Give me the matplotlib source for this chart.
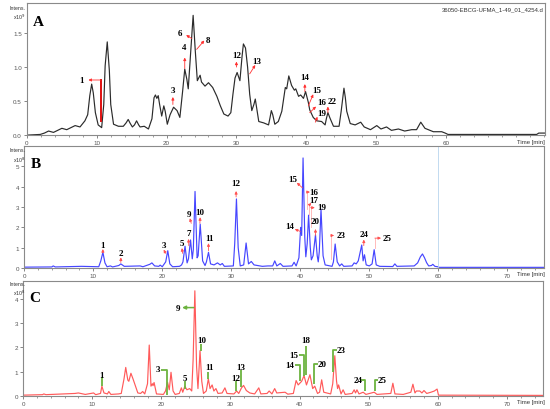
import matplotlib
matplotlib.use("Agg")
import matplotlib.pyplot as plt
from matplotlib.ticker import MultipleLocator, FixedLocator

# chromatogram A (total ion current), time in min, intensity x10^9
a_time = [0.0, 1.9, 2.5, 3.1, 3.8, 4.4, 5.0, 5.7, 6.3, 6.9, 7.6, 8.3, 8.7, 9.0, 9.27, 9.5, 9.8,
          10.2, 10.7, 11.0, 11.2, 11.5, 11.8, 12.0, 12.4, 13.1, 13.8, 14.2, 14.5, 14.8, 15.1,
          15.4, 15.7, 16.0, 16.2, 16.8, 17.4, 17.9, 18.2, 18.4, 18.6, 18.8, 19.0, 19.3, 19.6,
          19.8, 20.1, 20.5, 21.0, 21.5, 21.9, 22.3, 22.6, 22.9, 23.1, 23.5, 23.8, 24.1, 24.4,
          24.8, 25.0, 25.5, 26.0, 26.6, 27.2, 27.7, 28.2, 28.8, 29.2, 29.5, 29.8, 30.1, 30.5,
          30.8, 31.0, 31.3, 31.6, 31.9, 32.2, 32.5, 32.7, 32.9, 33.2, 33.9, 34.6, 34.8, 35.0,
          35.2, 35.5, 36.0, 36.5, 37.0, 37.2, 37.5, 37.9, 38.3, 38.5, 38.9, 39.2, 39.6, 39.9,
          40.3, 40.5, 41.0, 41.5, 42.2, 42.7, 42.9, 43.1, 43.4, 43.9, 44.7, 45.0, 45.4, 45.6,
          45.8, 46.3, 47.0, 47.8, 48.3, 49.2, 50.1, 50.7, 51.5, 52.2, 53.2, 54.1, 55.1, 55.8,
          56.4, 57.0, 57.7, 58.2, 59.4, 59.9, 60.3, 73.0, 73.3, 74.2]
a_int = [0.0, 0.01, 0.03, 0.06, 0.04, 0.07, 0.10, 0.08, 0.11, 0.14, 0.12, 0.21, 0.30, 0.58, 0.75,
         0.62, 0.33, 0.15, 0.11, 0.45, 1.02, 1.37, 0.95, 0.45, 0.16, 0.13, 0.13, 0.18, 0.23,
         0.17, 0.12, 0.15, 0.21, 0.15, 0.12, 0.13, 0.09, 0.24, 0.55, 0.59, 0.54, 0.58, 0.45,
         0.28, 0.43, 0.35, 0.16, 0.30, 0.41, 0.36, 0.26, 0.65, 0.97, 0.82, 0.68, 1.30, 1.76,
         1.25, 0.80, 0.88, 0.78, 0.72, 0.77, 0.70, 0.57, 0.43, 0.31, 0.28, 0.33, 0.60, 0.84,
         0.92, 0.80, 1.15, 1.34, 1.28, 1.00, 0.60, 0.36, 0.45, 0.53, 0.40, 0.20, 0.18, 0.15,
         0.25, 0.36, 0.30, 0.16, 0.20, 0.35, 0.70, 0.68, 0.87, 0.73, 0.66, 0.68, 0.57, 0.59,
         0.54, 0.64, 0.48, 0.37, 0.26, 0.21, 0.20, 0.15, 0.25, 0.33, 0.25, 0.13, 0.13, 0.35,
         0.69, 0.55, 0.35, 0.17, 0.15, 0.19, 0.12, 0.08, 0.14, 0.09, 0.12, 0.07, 0.09, 0.06,
         0.08, 0.08, 0.19, 0.10, 0.07, 0.05, 0.05, 0.03, 0.01, 0.01, 0.03, 0.03]

# chromatogram B (UV), intensity x10^8
b_time = [0.0, 4.0, 4.2, 4.5, 8.3, 10.8, 11.1, 11.4, 11.7, 12.0, 12.5, 12.8, 13.7, 14.0, 14.5,
          16.8, 17.2, 18.2, 18.5, 18.9, 19.5, 19.7, 20.0, 20.5, 20.8, 21.1, 21.5, 22.5, 22.8,
          23.0, 23.3, 23.6, 23.8, 24.1, 24.35, 24.5, 24.75, 25.05, 25.2, 25.5, 25.85, 26.2,
          26.4, 26.7, 27.0, 27.5, 28.0, 28.4, 28.7, 29.0, 30.3, 30.5, 30.75, 31.0, 31.3, 31.8,
          32.15, 32.5, 32.9, 33.3, 34.5, 35.3, 36.0, 36.3, 36.6, 37.1, 37.5, 38.8, 39.1, 39.4,
          39.8, 40.05, 40.2, 40.4, 40.65, 40.8, 41.0, 41.2, 41.45, 41.6, 41.85, 42.2, 42.45,
          42.6, 42.75, 43.0, 43.3, 43.6, 44.6, 44.8, 45.05, 45.35, 45.7, 46.0, 46.3, 47.5, 47.8,
          48.1, 48.4, 48.9, 49.1, 49.3, 49.55, 50.0, 50.4, 50.7, 51.0, 51.5, 53.4, 53.7, 54.0,
          56.5, 57.0, 57.4, 57.7, 58.0, 58.3, 58.6, 59.0, 59.2, 59.5, 59.9, 60.1, 75.5]
b_int = [0.04, 0.05, 0.10, 0.05, 0.08, 0.06, 0.35, 0.77, 0.25, 0.06, 0.10, 0.05, 0.12, 0.20,
         0.08, 0.10, 0.06, 0.18, 0.25, 0.10, 0.08, 0.14, 0.06, 0.30, 0.85, 0.20, 0.06, 0.08,
         0.15, 0.30, 1.07, 0.25, 0.45, 1.38, 0.45, 0.90, 3.77, 0.50, 0.60, 2.16, 0.35, 0.12,
         0.30, 0.77, 0.20, 0.15, 0.25, 0.15, 0.22, 0.08, 0.10, 1.20, 3.40, 1.00, 0.10, 0.15,
         1.23, 0.20, 0.32, 0.15, 0.08, 0.10, 0.10, 0.35, 0.10, 0.22, 0.08, 0.10, 0.28, 0.10,
         0.50, 2.00, 1.60, 5.42, 1.50, 0.55, 1.20, 2.60, 1.00, 0.40, 0.60, 1.63, 0.60, 0.30,
         0.80, 2.89, 0.60, 0.15, 0.08, 0.30, 1.18, 0.30, 0.10, 0.20, 0.08, 0.10, 0.25, 0.20,
         0.35, 1.13, 0.35, 0.65, 0.15, 0.10, 0.20, 0.90, 0.15, 0.08, 0.07, 0.20, 0.08, 0.10,
         0.25, 0.55, 0.69, 0.50, 0.26, 0.10, 0.12, 0.18, 0.08, 0.06, 0.03, 0.03]

# chromatogram C (extracted ions), intensity x10^8
c_time = [0.0, 2.8, 3.0, 3.3, 7.5, 8.0, 9.0, 10.2, 10.5, 11.2, 11.4, 11.7, 12.2, 12.4, 12.7,
          13.8, 14.2, 14.6, 14.85, 15.15, 15.3, 15.6, 15.9, 16.2, 16.6, 17.0, 17.3, 17.6, 18.0,
          18.25, 18.5, 18.7, 18.8, 18.95, 19.3, 20.3, 20.6, 20.9, 21.15, 21.4, 21.7, 22.0, 22.6,
          22.9, 23.1, 23.4, 23.7, 24.1, 24.4, 24.6, 24.85, 25.1, 25.3, 25.6, 25.85, 26.1, 26.5,
          26.8, 27.05, 27.35, 27.6, 27.9, 28.2, 28.8, 29.2, 29.5, 30.5, 30.9, 31.2, 31.6, 31.9,
          32.3, 32.8, 33.5, 34.1, 34.4, 35.3, 35.6, 36.0, 36.4, 36.7, 37.9, 38.3, 39.1, 39.5,
          39.8, 40.3, 40.65, 41.0, 41.5, 41.9, 42.2, 42.6, 42.9, 43.2, 43.5, 44.5, 44.8, 45.1,
          45.35, 45.5, 45.65, 46.0, 46.3, 46.6, 47.6, 47.9, 48.1, 48.3, 48.6, 49.2, 49.6, 50.8,
          51.2, 53.2, 53.5, 53.8, 55.0, 56.1, 56.4, 56.7, 56.9, 57.4, 57.7, 58.0, 58.4, 59.0,
          59.5, 59.9, 60.1, 75.5]
c_int = [0.03, 0.05, 0.08, 0.05, 0.10, 0.12, 0.06, 0.12, 0.05, 0.10, 0.40, 0.12, 0.08, 0.18,
         0.06, 0.08, 0.10, 0.70, 1.17, 0.65, 0.60, 0.93, 0.70, 0.45, 0.12, 0.10, 0.18, 0.08,
         0.50, 2.09, 0.40, 0.50, 0.42, 0.55, 0.08, 0.06, 0.20, 0.56, 0.25, 0.97, 0.20, 0.06,
         0.10, 0.33, 0.15, 0.40, 0.25, 0.30, 0.20, 1.50, 4.32, 1.20, 0.30, 1.86, 0.60, 0.10,
         0.20, 0.70, 0.30, 0.45, 0.20, 0.30, 0.10, 0.12, 0.33, 0.10, 0.08, 0.20, 0.10, 0.33,
         0.43, 0.22, 0.12, 0.08, 0.33, 0.08, 0.10, 0.20, 0.08, 0.30, 0.12, 0.15, 0.07, 0.10,
         0.63, 0.45, 0.60, 0.83, 0.45, 0.87, 0.30, 0.40, 0.10, 0.15, 0.66, 0.15, 0.08, 0.50,
         1.65, 0.60, 0.30, 0.45, 0.08, 0.25, 0.06, 0.10, 0.25, 0.12, 0.25, 0.08, 0.15, 0.06,
         0.15, 0.06, 0.10, 0.52, 0.08, 0.06, 0.15, 0.48, 0.12, 0.20, 0.20, 0.12, 0.22, 0.10,
         0.15, 0.20, 0.28, 0.03, 0.02]

# peak labels: (text, label x, label y, arrow tail x, tail y, head x, head y)
a_marks = [("1", 7.8, 0.81, 10.6, 0.81, 8.8, 0.81),
           ("3", 20.9, 0.67, 20.9, 0.45, 20.9, 0.56),
           ("4", 22.5, 1.30, 22.6, 0.98, 22.6, 1.14),
           ("6", 21.9, 1.50, 23.6, 1.42, 22.8, 1.47),
           ("8", 26.0, 1.40, 24.3, 1.26, 25.4, 1.39),
           ("12", 30.0, 1.17, 30.0, 1.00, 30.0, 1.08),
           ("13", 32.9, 1.09, 31.9, 0.90, 32.7, 1.03),
           ("14", 39.8, 0.85, 39.8, 0.64, 39.8, 0.75),
           ("15", 41.5, 0.67, 40.3, 0.43, 41.0, 0.60),
           ("16", 42.2, 0.48, 40.5, 0.33, 41.4, 0.42),
           ("22", 43.7, 0.50, 43.1, 0.33, 43.1, 0.42),
           ("19", 42.2, 0.33, 41.3, 0.19, 41.6, 0.27)]

b_marks = [("1", 11.4, 1.13, 11.4, 0.75, 11.4, 0.93),
           ("2", 14.0, 0.73, 14.0, 0.27, 14.0, 0.52),
           ("3", 20.2, 1.13, 20.5, 0.72, 20.2, 0.90),
           ("5", 22.8, 1.22, 22.95, 0.72, 22.85, 0.98),
           ("7", 23.8, 1.72, 23.85, 1.10, 23.8, 1.43),
           ("9", 23.9, 2.65, 24.2, 2.20, 24.0, 2.45),
           ("10", 25.5, 2.78, 25.45, 2.20, 25.5, 2.50),
           ("11", 26.8, 1.50, 26.7, 0.85, 26.7, 1.22),
           ("12", 30.7, 4.20, 30.7, 3.50, 30.7, 3.79),
           ("14", 38.4, 2.07, 40.0, 1.80, 39.2, 1.91),
           ("15", 38.9, 4.40, 40.3, 3.95, 39.5, 4.20),
           ("16", 42.0, 3.74, 40.9, 3.74, 41.4, 3.74),
           ("17", 42.0, 3.33, 41.3, 3.10, 41.6, 3.20),
           ("19", 43.1, 3.02, 41.5, 2.97, 42.1, 2.97),
           ("20", 42.2, 2.32, 42.2, 1.60, 42.2, 1.92),
           ("23", 45.9, 1.63, 44.45, 1.60, 44.9, 1.60),
           ("24", 49.2, 1.67, 49.2, 1.10, 49.2, 1.40),
           ("25", 52.6, 1.47, 50.8, 1.47, 51.7, 1.47)]
# pale guide lines down from some arrows in B: (x, y0, y1)
b_guides = [(40.9, 2.90, 3.74), (41.3, 2.60, 3.10), (41.5, 2.00, 2.97),
            (44.45, 0.45, 1.60), (50.8, 1.00, 1.47)]

# green brackets in C: (text, label x, label y, line points x list, y list)
c_marks = [("1", 11.4, 0.86, [11.4, 11.4], [0.40, 0.78]),
           ("3", 19.55, 1.10, [19.95, 20.8, 20.8], [1.07, 1.07, 0.05]),
           ("5", 23.4, 0.72, [23.4, 23.4], [0.30, 0.60]),
           ("10", 25.9, 2.30, [25.75, 25.75], [1.86, 2.13]),
           ("11", 26.9, 1.17, [26.8, 26.8], [0.70, 1.00]),
           ("12", 30.7, 0.72, [30.85, 30.85], [0.20, 0.60]),
           ("13", 31.5, 1.20, [31.5, 31.5], [0.35, 1.05]),
           ("14", 38.6, 1.28, [39.3, 40.0, 40.0], [1.28, 1.28, 0.60]),
           ("15", 39.2, 1.68, [39.9, 40.65, 40.65], [1.68, 1.68, 0.83]),
           ("18", 40.9, 2.30, [40.9, 40.9], [0.86, 2.05]),
           ("20", 43.3, 1.31, [42.65, 42.1, 42.1], [1.31, 1.31, 0.50]),
           ("23", 46.0, 1.89, [45.4, 44.85, 44.85], [1.89, 1.89, 1.00]),
           ("24", 48.4, 0.66, [48.9, 49.5, 49.5], [0.66, 0.66, 0.20]),
           ("25", 52.0, 0.66, [51.4, 50.9, 50.9], [0.66, 0.66, 0.20])]

plt.rcParams['font.family'] = ['Liberation Sans', 'DejaVu Sans']
serif = 'Liberation Serif'
tick_col = '#555555'
frame_col = '#8a8a8a'
green = '#6cb33f'

fig = plt.figure(figsize=(5.5, 4.1), dpi=100)
axA = fig.add_axes([0.049, 0.668, 0.942, 0.322])
axB = fig.add_axes([0.044, 0.344, 0.945, 0.297])
axC = fig.add_axes([0.042, 0.032, 0.945, 0.280])


def style(ax, xmax, ymax, yticks, fmt, xticks):
    ax.set_xlim(0, xmax)
    ax.set_ylim(0, ymax)
    ax.xaxis.set_major_locator(FixedLocator(xticks))
    ax.xaxis.set_minor_locator(MultipleLocator(2))
    ax.set_yticks(yticks)
    ax.set_yticklabels([fmt.format(v) for v in yticks])
    ax.tick_params(which='major', length=2.5, width=0.5, labelsize=4.5, pad=1.2,
                   colors=tick_col, direction='out')
    ax.tick_params(which='minor', length=1.3, width=0.4, colors=tick_col, direction='out')
    for s in ax.spines.values():
        s.set_color(frame_col)
        s.set_linewidth(0.8)


style(axA, 74.2, 1.94, [0.0, 0.5, 1.0, 1.5], "{:.1f}", [0, 10, 20, 30, 40, 50, 60])
style(axB, 75.3, 6.0, [0, 1, 2, 3, 4, 5], "{:d}", [0, 10, 20, 30, 40, 50, 60, 70])
style(axC, 75.2, 4.72, [0, 1, 2, 3, 4], "{:d}", [0, 10, 20, 30, 40, 50, 60, 70])

axA.plot(a_time, a_int, color='#2b2b2b', lw=0.85)
axB.plot(b_time, b_int, color='#4646ff', lw=0.85)
axB.axvline(60, color='#b8d4ee', lw=0.6)
axC.plot(c_time, c_int, color='#ff5a5a', lw=0.85)

lab = dict(fontfamily=serif, fontweight='bold', fontsize=6.5, ha='center', va='center')

# panel A marks
axA.plot([10.6, 10.6], [0.21, 0.81], color='#e01010', lw=1.4)
for txt, lx, ly, tx, ty, hx, hy in a_marks:
    axA.annotate("", xy=(hx, hy), xytext=(tx, ty),
                 arrowprops=dict(arrowstyle='-|>', color='#ff3030', lw=0.6,
                                 mutation_scale=4, shrinkA=0, shrinkB=0))
    axA.text(lx, ly, txt, **lab)

# panel B marks
for gx, g0, g1 in b_guides:
    axB.plot([gx, gx], [g0, g1], color='#ffb0b0', lw=0.6)
for txt, lx, ly, tx, ty, hx, hy in b_marks:
    axB.annotate("", xy=(hx, hy), xytext=(tx, ty),
                 arrowprops=dict(arrowstyle='-|>', color='#ff5050', lw=0.6,
                                 mutation_scale=4, shrinkA=0, shrinkB=0))
    axB.text(lx, ly, txt, **lab)

# panel C marks
for txt, lx, ly, xs, ys in c_marks:
    axC.plot(xs, ys, color=green, lw=1.3, solid_capstyle='butt')
    axC.text(lx, ly, txt, **lab)
# peak 9 has a left-pointing arrow
axC.annotate("", xy=(23.0, 3.63), xytext=(24.7, 3.63),
             arrowprops=dict(arrowstyle='-|>', color=green, lw=1.1,
                             mutation_scale=5, shrinkA=0, shrinkB=0))
axC.text(22.35, 3.63, "9", **lab)

# panel letters and side texts
for ax, letter in [(axA, 'A'), (axB, 'B'), (axC, 'C')]:
    ax.text(0.012, 0.86, letter, transform=ax.transAxes, fontfamily=serif,
            fontweight='bold', fontsize=11, ha='left', va='center')

for yt, exp in [(0.985, 9), (0.638, 8), (0.313, 8)]:
    fig.text(0.046, yt, "Intens.", fontsize=3.8, color='#333333', ha='right', va='top')
    fig.text(0.046, yt - 0.017, "x10$^{%d}$" % exp, fontsize=3.8, color='#333333',
             ha='right', va='top')

for yt in [0.653, 0.330, 0.018]:
    fig.text(0.99, yt, "Time [min]", fontsize=4.3, color='#333333', ha='right', va='center')

axA.text(0.998, 0.975, "36050-EBCG-UFMA_1-49_01_4254.d", transform=axA.transAxes,
         fontsize=4.3, color='#333333', ha='right', va='top')

fig.savefig("out.png", dpi=100)
